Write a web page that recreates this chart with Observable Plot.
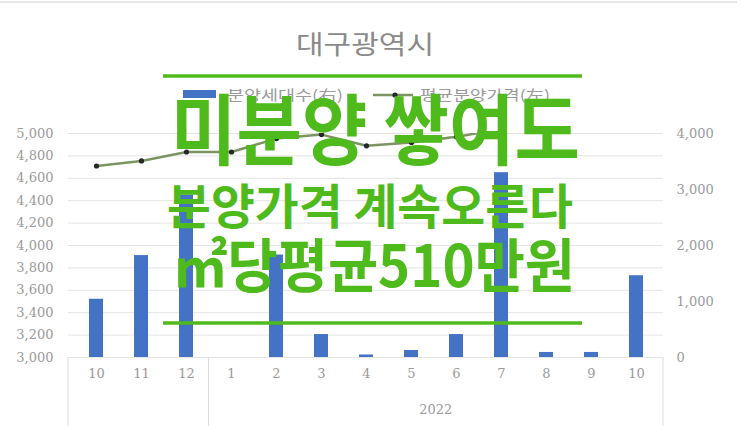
<!DOCTYPE html>
<html><head><meta charset="utf-8">
<script src="https://cdn.jsdelivr.net/npm/d3@7"></script>
<script src="https://cdn.jsdelivr.net/npm/@observablehq/plot@0.6"></script>
<style>body{margin:0;background:#fff} #chart{position:relative;width:743px;height:426px}</style>
</head><body><div id="chart"></div>
<script>
const keys = ["2021-10","2021-11","2021-12","2022-01","2022-02","2022-03","2022-04","2022-05","2022-06","2022-07","2022-08","2022-09","2022-10"];
const monthLabels = ["10","11","12","1","2","3","4","5","6","7","8","9","10"];
const units = [1040, 1820, 2900, 0, 1830, 410, 45, 125, 410, 3300, 90, 90, 1460];
const prices = [4710, 4755, 4835, 4835, 4955, 4990, 4890, 4920, 4970, 5040, 5070, 5090, 5100];
const leftTicks = [3000,3200,3400,3600,3800,4000,4200,4400,4600,4800,5000];
const rightTicks = [0,1000,2000,3000,4000];
const yearLabel = "2022";
const title = "대구광역시";
const legendLabels = ["분양세대수(右)", "평균분양가격(左)"];
const headline = ["미분양 쌓여도", "분양가격 계속오른다", "㎡당평균510만원"];

const rows = keys.map((k, i) => ({key: k, month: monthLabels[i], units: units[i], price: prices[i]}));
const toRight = p => (p - 3000) * 2; // left (price) axis mapped onto the right (units) axis
const fmt = d3.format(",");
const axisFont = "DejaVu Serif";

const plot = Plot.plot({
  width: 743, height: 426,
  marginTop: 133, marginBottom: 69, marginLeft: 68, marginRight: 80,
  style: {fontFamily: axisFont, fontSize: "13px", color: "#9a9a9a", background: "transparent"},
  x: {domain: keys, paddingInner: 0.69, paddingOuter: 0.34, label: null},
  y: {domain: [0, 4000], label: null},
  marks: [
    Plot.ruleY(leftTicks, {y: toRight, stroke: "#e4e4e4", strokeWidth: 1}),
    Plot.barY(rows, {x: "key", y: "units", fill: "#4472c4"}),
    Plot.line(rows, {x: "key", y: d => toRight(d.price), stroke: "#7d9462", strokeWidth: 2.5, clip: true}),
    Plot.dot(rows, {x: "key", y: d => toRight(d.price), r: 2.6, fill: "#262626", clip: true}),
    Plot.axisY(leftTicks.map(toRight), {anchor: "left", tickSize: 0, tickPadding: 15, label: null, tickFormat: d => fmt(d / 2 + 3000)}),
    Plot.axisY(rightTicks, {anchor: "right", tickSize: 0, tickPadding: 13, label: null, tickFormat: fmt}),
    Plot.axisX({tickSize: 0, tickPadding: 11, label: null, tickFormat: k => monthLabels[keys.indexOf(k)]})
  ]
});
document.getElementById("chart").appendChild(plot);

const svg = d3.select(plot);
const xs = plot.scale("x");
const gap = xs.step - xs.bandwidth;
const x0 = 68, x1 = 743 - 80, yBase = 426 - 69;
const sep = xs.apply("2022-01") - gap / 2;

// faint chart border at top
svg.append("line").attr("x1", 0).attr("x2", 737).attr("y1", 2).attr("y2", 2).attr("stroke", "#e6e6e6").attr("stroke-width", 2);

// category grouping lines under the axis
[x0, sep, x1].forEach(x => svg.append("line").attr("x1", x).attr("x2", x).attr("y1", yBase).attr("y2", 426).attr("stroke", "#dcdcdc"));
svg.append("text").attr("x", (sep + x1) / 2).attr("y", 414).attr("text-anchor", "middle")
  .attr("font-family", axisFont).attr("font-size", 13).attr("fill", "#9a9a9a").text(yearLabel);

// title
svg.append("text").attr("x", 296).attr("y", 54).attr("text-anchor", "start")
  .attr("font-family", "Noto Sans CJK KR").attr("font-size", 26).attr("fill", "#8a8a8a")
  .attr("textLength", 138).attr("lengthAdjust", "spacingAndGlyphs").text(title);

// legend
svg.append("rect").attr("x", 183).attr("y", 90).attr("width", 33).attr("height", 8).attr("fill", "#4472c4");
svg.append("text").attr("x", 227).attr("y", 100).attr("text-anchor", "start").attr("font-family", "Noto Sans CJK KR").attr("font-size", 14).attr("fill", "#9a9a9a")
  .attr("textLength", 116).attr("lengthAdjust", "spacingAndGlyphs").text(legendLabels[0]);
svg.append("line").attr("x1", 373).attr("x2", 413).attr("y1", 95).attr("y2", 95).attr("stroke", "#7d9462").attr("stroke-width", 2.5);
svg.append("circle").attr("cx", 395).attr("cy", 95).attr("r", 2.6).attr("fill", "#262626");
svg.append("text").attr("x", 420).attr("y", 100).attr("text-anchor", "start").attr("font-family", "Noto Sans CJK KR").attr("font-size", 14).attr("fill", "#9a9a9a")
  .attr("textLength", 130).attr("lengthAdjust", "spacingAndGlyphs").text(legendLabels[1]);

// headline overlay
const green = "#4fba1c";
[76, 323].forEach(y => svg.append("line").attr("x1", 163).attr("x2", 582).attr("y1", y).attr("y2", y).attr("stroke", green).attr("stroke-width", 3.5));
const hl = [
  {x: 171, y: 159, size: 77, len: 409},
  {x: 167, y: 224, size: 48, len: 406},
  {x: 173, y: 287, size: 58, len: 402}
];
headline.forEach((t, i) => {
  svg.append("text").attr("x", hl[i].x).attr("y", hl[i].y).attr("text-anchor", "start")
    .attr("font-family", "Noto Sans CJK KR").attr("font-weight", 700).attr("font-size", hl[i].size)
    .attr("fill", green).attr("textLength", hl[i].len).attr("lengthAdjust", "spacingAndGlyphs").text(t);
});
</script>
</body></html>
